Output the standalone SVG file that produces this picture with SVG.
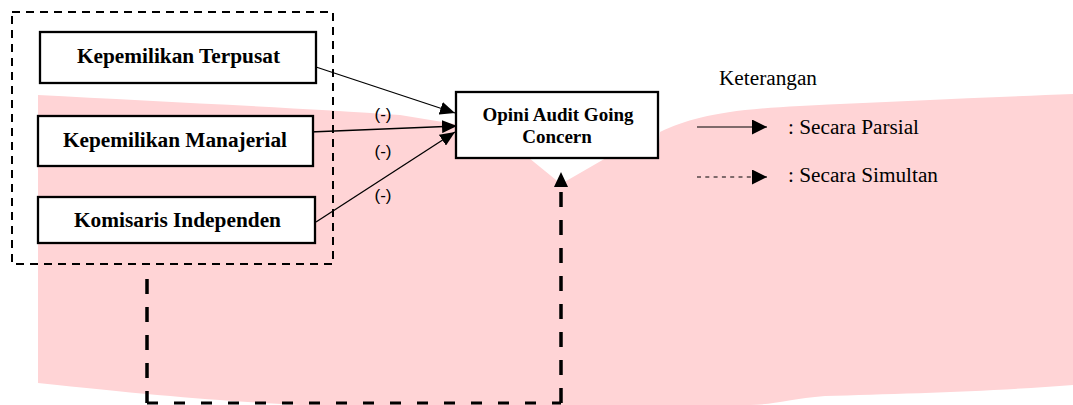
<svg xmlns="http://www.w3.org/2000/svg" width="1073" height="405" viewBox="0 0 1073 405">
  <style>
    .node { fill: #ffffff; stroke: #000000; stroke-width: 2.3; }
    .label { font-family: "Liberation Serif", "Times New Roman", serif; font-weight: bold; font-size: 20.5px; fill: #000000; }
    .target { font-size: 19px; }
    .legend { font-family: "Liberation Serif", "Times New Roman", serif; font-size: 20px; fill: #000000; }
    .sign { font-family: "Liberation Sans", Arial, sans-serif; font-size: 17px; fill: #000000; }
    .partial { stroke: #000000; stroke-width: 1.3; fill: none; }
    .simul { stroke: #000000; stroke-width: 3.5; fill: none; }
  </style>
  <defs>
    <marker id="head" markerUnits="userSpaceOnUse" markerWidth="16" markerHeight="13" refX="15" refY="6.5" orient="auto">
      <path d="M0,0 L15,6.5 L0,13 Z" fill="#000000"/>
    </marker>
    <marker id="headBig" markerUnits="userSpaceOnUse" markerWidth="16" markerHeight="15" refX="0" refY="7" orient="auto">
      <path d="M0,0 L15,7 L0,14 Z" fill="#000000"/>
    </marker>
    <marker id="headLegend" markerUnits="userSpaceOnUse" markerWidth="16" markerHeight="16" refX="15" refY="7.5" orient="auto">
      <path d="M0,0 L15,7.5 L0,15 Z" fill="#000000"/>
    </marker>
  </defs>

  <rect x="0" y="0" width="1073" height="405" fill="#ffffff"/>

  <!-- pale red backdrop band -->
  <path d="M38,95 C150,101 300,108 400,115 L455,124 L455,158 L529,158 L561,184 L606,158 L658,158 L660,132 C690,118 720,110 800,106 C900,101 1000,97 1073,94 L1073,385 C1000,391 900,394 825,396 C790,399 770,405 750,405 L300,405 C220,401 150,395 38,383 Z" fill="#ffd4d6"/>

  <!-- grouping frame around the independent variables -->
  <rect id="frame" x="12" y="12" width="321" height="252" fill="none" stroke="#000000" stroke-width="2" stroke-dasharray="8 6"/>

  <g id="connectors">
    <line class="partial" x1="316" y1="67" x2="455" y2="113" marker-end="url(#head)"/>
    <line class="partial" x1="310" y1="132" x2="457" y2="126" marker-end="url(#head)"/>
    <line class="partial" x1="316" y1="222" x2="455" y2="132" marker-end="url(#head)"/>
    <path class="simul" d="M147,279 L147,403" stroke-dasharray="15 13"/>
    <path d="M147,403 L561,403" stroke="#000000" stroke-width="2.8" fill="none" stroke-dasharray="11 16"/>
    <path class="simul" d="M561,403 L561,187" stroke-dasharray="15 13" marker-end="url(#headBig)"/>
    <text class="sign" x="383" y="120" text-anchor="middle">(-)</text>
    <text class="sign" x="383" y="157" text-anchor="middle">(-)</text>
    <text class="sign" x="383" y="201" text-anchor="middle">(-)</text>
  </g>

  <g id="kepemilikan-terpusat">
    <rect class="node" x="40" y="32" width="276" height="51"/>
    <text class="label" x="77" y="63" textLength="203" lengthAdjust="spacingAndGlyphs">Kepemilikan Terpusat</text>
  </g>
  <g id="kepemilikan-manajerial">
    <rect class="node" x="38" y="116" width="275" height="50"/>
    <text class="label" x="63" y="147" textLength="224" lengthAdjust="spacingAndGlyphs">Kepemilikan Manajerial</text>
  </g>
  <g id="komisaris-independen">
    <rect class="node" x="38" y="197" width="277" height="46"/>
    <text class="label" x="74" y="227" textLength="207" lengthAdjust="spacingAndGlyphs">Komisaris Independen</text>
  </g>
  <g id="opini-audit">
    <rect class="node" x="456" y="92" width="202" height="66"/>
    <text class="label target" x="558" y="121" text-anchor="middle">Opini Audit Going</text>
    <text class="label target" x="557" y="143" text-anchor="middle">Concern</text>
  </g>

  <g id="legend">
    <text class="legend" x="719" y="85" textLength="98" lengthAdjust="spacingAndGlyphs">Keterangan</text>
    <line x1="697" y1="127" x2="767" y2="127" stroke="#000000" stroke-width="1.2" marker-end="url(#headLegend)"/>
    <text class="legend" x="788" y="134" textLength="131" lengthAdjust="spacingAndGlyphs">: Secara Parsial</text>
    <line x1="697" y1="177" x2="767" y2="177" stroke="#000000" stroke-width="1.2" stroke-dasharray="4 4.3" marker-end="url(#headLegend)"/>
    <text class="legend" x="788" y="182" textLength="150" lengthAdjust="spacingAndGlyphs">: Secara Simultan</text>
  </g>
</svg>
